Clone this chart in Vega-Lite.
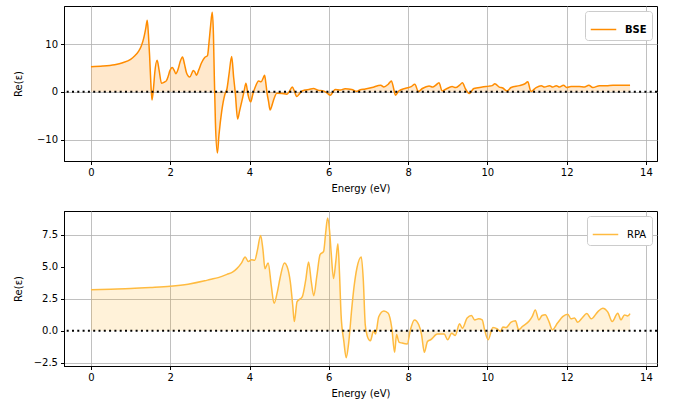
{
  "$schema": "https://vega.github.io/schema/vega-lite/v6.json",
  "padding": {"left": 12, "top": 5, "right": 5, "bottom": 5},
  "background": "white",
  "bounds": "flush",
  "spacing": 50,
  "config": {
    "font": "DejaVu Sans",
    "view": {"stroke": "black", "strokeWidth": 1},
    "axis": {
      "gridColor": "#b0b0b0", "gridWidth": 0.8, "domainColor": "black", "domainWidth": 1,
      "tickColor": "black", "tickSize": 3.5, "labelFontSize": 10, "labelColor": "black",
      "labelPadding": 3, "titleFontSize": 10, "titleFontWeight": "normal", "titleColor": "black",
      "titlePadding": 4, "labelFlush": false, "labelOverlap": false, "labelSeparation": 0, "labelBound": false
    },
    "legend": {
      "orient": "top-right", "offset": 5, "fillColor": "white", "strokeColor": "#cccccc",
      "cornerRadius": 3, "padding": 5, "labelFontSize": 10, "labelColor": "black",
      "symbolType": "stroke", "symbolSize": 650, "symbolStrokeWidth": 1.5, "labelOffset": 8
    }
  },
  "resolve": {"scale": {"x": "independent", "y": "independent", "color": "independent"}, "legend": {"color": "independent"}},
  "datasets": {
    "bse": [
      {"E":0,"v":5.27},{"E":0.3,"v":5.4},{"E":0.6,"v":5.7},{"E":0.8,"v":6.1},{"E":1.0,"v":6.8},{"E":1.1,"v":7.5},{"E":1.2,"v":8.5},{"E":1.27,"v":9.6},{"E":1.33,"v":11.2},{"E":1.38,"v":13.2},{"E":1.42,"v":15.0},{"E":1.45,"v":12.0},{"E":1.48,"v":7.5},{"E":1.51,"v":2.0},{"E":1.54,"v":-1.7},{"E":1.58,"v":1.0},{"E":1.61,"v":4.0},{"E":1.67,"v":6.6},{"E":1.72,"v":4.5},{"E":1.78,"v":1.8},{"E":1.84,"v":2.0},{"E":1.90,"v":2.3},{"E":1.95,"v":3.3},{"E":1.99,"v":4.4},{"E":2.05,"v":5.1},{"E":2.10,"v":4.5},{"E":2.14,"v":3.8},{"E":2.2,"v":4.8},{"E":2.25,"v":6.3},{"E":2.31,"v":7.3},{"E":2.36,"v":5.8},{"E":2.41,"v":4.0},{"E":2.49,"v":3.1},{"E":2.55,"v":4.0},{"E":2.58,"v":4.5},{"E":2.62,"v":4.2},{"E":2.66,"v":3.5},{"E":2.72,"v":4.6},{"E":2.79,"v":6.1},{"E":2.87,"v":7.2},{"E":2.94,"v":7.6},{"E":2.98,"v":10.5},{"E":3.02,"v":14.0},{"E":3.06,"v":16.7},{"E":3.09,"v":12.0},{"E":3.11,"v":4.0},{"E":3.14,"v":-6.4},{"E":3.19,"v":-12.8},{"E":3.23,"v":-9.0},{"E":3.30,"v":-4.0},{"E":3.38,"v":-0.5},{"E":3.43,"v":0.6},{"E":3.48,"v":3.5},{"E":3.55,"v":7.4},{"E":3.60,"v":3.0},{"E":3.64,"v":-0.1},{"E":3.70,"v":-5.7},{"E":3.75,"v":-4.0},{"E":3.80,"v":-2.2},{"E":3.86,"v":0.0},{"E":3.91,"v":1.8},{"E":3.96,"v":-0.5},{"E":4.03,"v":-2.1},{"E":4.08,"v":-0.6},{"E":4.14,"v":0.9},{"E":4.23,"v":2.3},{"E":4.29,"v":2.1},{"E":4.35,"v":3.0},{"E":4.38,"v":3.5},{"E":4.41,"v":2.0},{"E":4.44,"v":-0.1},{"E":4.48,"v":-2.0},{"E":4.52,"v":-3.8},{"E":4.56,"v":-3.0},{"E":4.60,"v":-1.9},{"E":4.69,"v":-0.3},{"E":4.82,"v":-0.35},{"E":4.94,"v":-0.5},{"E":5.0,"v":0.0},{"E":5.08,"v":1.0},{"E":5.13,"v":0.2},{"E":5.19,"v":-1.0},{"E":5.25,"v":-0.5},{"E":5.30,"v":0.0},{"E":5.40,"v":0.4},{"E":5.50,"v":0.5},{"E":5.61,"v":0.7},{"E":5.73,"v":0.35},{"E":5.86,"v":0.2},{"E":5.95,"v":-0.2},{"E":6.04,"v":-0.7},{"E":6.10,"v":-0.1},{"E":6.16,"v":0.5},{"E":6.29,"v":0.4},{"E":6.41,"v":0.65},{"E":6.58,"v":0.5},{"E":6.70,"v":0.1},{"E":6.78,"v":0.4},{"E":6.92,"v":0.6},{"E":7.09,"v":0.9},{"E":7.31,"v":1.4},{"E":7.39,"v":1.0},{"E":7.50,"v":1.6},{"E":7.58,"v":2.3},{"E":7.64,"v":0.55},{"E":7.68,"v":-0.7},{"E":7.77,"v":0.2},{"E":7.94,"v":0.76},{"E":8.08,"v":1.1},{"E":8.17,"v":1.6},{"E":8.26,"v":0.07},{"E":8.36,"v":0.7},{"E":8.53,"v":1.25},{"E":8.62,"v":1.0},{"E":8.70,"v":1.4},{"E":8.78,"v":1.9},{"E":8.86,"v":0.2},{"E":8.95,"v":0.55},{"E":9.11,"v":1.1},{"E":9.20,"v":0.9},{"E":9.30,"v":1.4},{"E":9.37,"v":1.9},{"E":9.45,"v":0.6},{"E":9.54,"v":-0.35},{"E":9.66,"v":0.7},{"E":9.87,"v":1.0},{"E":10.04,"v":1.2},{"E":10.12,"v":1.3},{"E":10.19,"v":1.7},{"E":10.30,"v":1.0},{"E":10.39,"v":0.8},{"E":10.49,"v":0.2},{"E":10.60,"v":0.9},{"E":10.81,"v":1.3},{"E":10.95,"v":1.7},{"E":11.02,"v":2.1},{"E":11.10,"v":0.07},{"E":11.23,"v":0.9},{"E":11.36,"v":1.3},{"E":11.44,"v":1.0},{"E":11.57,"v":1.3},{"E":11.65,"v":1.0},{"E":11.74,"v":1.3},{"E":11.82,"v":1.0},{"E":11.92,"v":1.4},{"E":12.0,"v":0.9},{"E":12.11,"v":1.1},{"E":12.32,"v":1.1},{"E":12.45,"v":1.0},{"E":12.56,"v":1.4},{"E":12.66,"v":0.9},{"E":12.83,"v":1.3},{"E":13.0,"v":1.3},{"E":13.17,"v":1.4},{"E":13.34,"v":1.4},{"E":13.51,"v":1.4},{"E":13.6,"v":1.4}
    ],
    "rpa": [
      {"E":0,"v":3.2},{"E":0.5,"v":3.25},{"E":1.0,"v":3.3},{"E":1.5,"v":3.38},{"E":2.0,"v":3.48},{"E":2.45,"v":3.64},{"E":2.87,"v":3.9},{"E":3.0,"v":4.0},{"E":3.21,"v":4.15},{"E":3.43,"v":4.4},{"E":3.58,"v":4.6},{"E":3.68,"v":4.85},{"E":3.80,"v":5.3},{"E":3.89,"v":5.76},{"E":3.97,"v":5.4},{"E":4.05,"v":5.55},{"E":4.13,"v":5.5},{"E":4.20,"v":6.3},{"E":4.28,"v":7.44},{"E":4.34,"v":6.3},{"E":4.39,"v":4.85},{"E":4.47,"v":5.3},{"E":4.55,"v":3.5},{"E":4.62,"v":2.14},{"E":4.70,"v":3.0},{"E":4.77,"v":4.1},{"E":4.88,"v":5.3},{"E":4.95,"v":5.0},{"E":5.03,"v":3.8},{"E":5.09,"v":2.0},{"E":5.13,"v":0.72},{"E":5.20,"v":2.27},{"E":5.33,"v":2.65},{"E":5.42,"v":4.0},{"E":5.49,"v":5.37},{"E":5.56,"v":3.8},{"E":5.62,"v":2.74},{"E":5.70,"v":4.3},{"E":5.78,"v":5.94},{"E":5.87,"v":6.2},{"E":5.92,"v":7.6},{"E":5.97,"v":8.8},{"E":6.02,"v":7.8},{"E":6.06,"v":6.1},{"E":6.12,"v":4.08},{"E":6.18,"v":5.5},{"E":6.23,"v":6.8},{"E":6.27,"v":4.5},{"E":6.31,"v":1.24},{"E":6.38,"v":-0.83},{"E":6.44,"v":-2.1},{"E":6.50,"v":-1.0},{"E":6.58,"v":1.75},{"E":6.64,"v":3.5},{"E":6.71,"v":4.9},{"E":6.82,"v":5.76},{"E":6.87,"v":4.0},{"E":6.92,"v":0.46},{"E":6.97,"v":-0.4},{"E":7.05,"v":-0.78},{"E":7.13,"v":0},{"E":7.18,"v":-0.26},{"E":7.26,"v":1.1},{"E":7.39,"v":1.55},{"E":7.50,"v":1.37},{"E":7.59,"v":0.2},{"E":7.66,"v":-1.68},{"E":7.71,"v":-0.3},{"E":7.77,"v":-0.88},{"E":7.85,"v":-0.96},{"E":7.98,"v":-1.03},{"E":8.06,"v":0.08},{"E":8.16,"v":0.85},{"E":8.27,"v":0.47},{"E":8.34,"v":-0.3},{"E":8.41,"v":-1.68},{"E":8.49,"v":-0.83},{"E":8.57,"v":-0.7},{"E":8.74,"v":-0.26},{"E":8.91,"v":-0.26},{"E":9.0,"v":-0.7},{"E":9.10,"v":-0.2},{"E":9.19,"v":-0.36},{"E":9.30,"v":0.54},{"E":9.37,"v":0.2},{"E":9.49,"v":1.0},{"E":9.60,"v":1.19},{"E":9.68,"v":0.85},{"E":9.78,"v":0.93},{"E":9.87,"v":0.85},{"E":9.93,"v":0.08},{"E":10.02,"v":-0.7},{"E":10.14,"v":0.26},{"E":10.25,"v":0.15},{"E":10.33,"v":-0.05},{"E":10.39,"v":0.3},{"E":10.47,"v":0.25},{"E":10.60,"v":0.67},{"E":10.71,"v":0.78},{"E":10.79,"v":0.08},{"E":10.89,"v":0.35},{"E":11.06,"v":0.78},{"E":11.13,"v":1.1},{"E":11.21,"v":1.63},{"E":11.30,"v":0.85},{"E":11.38,"v":1.19},{"E":11.46,"v":1.25},{"E":11.56,"v":0.67},{"E":11.64,"v":0.08},{"E":11.77,"v":0.6},{"E":11.90,"v":1.1},{"E":12.03,"v":1.29},{"E":12.11,"v":0.93},{"E":12.20,"v":1.0},{"E":12.28,"v":0.67},{"E":12.39,"v":1.0},{"E":12.51,"v":1.34},{"E":12.62,"v":0.93},{"E":12.79,"v":1.5},{"E":12.91,"v":1.76},{"E":13.04,"v":1.45},{"E":13.15,"v":0.72},{"E":13.29,"v":1.37},{"E":13.37,"v":0.85},{"E":13.46,"v":1.24},{"E":13.54,"v":1.15},{"E":13.6,"v":1.34}
    ]
  },
  "vconcat": [
    {
      "width": 593, "height": 155,
      "layer": [
        {"data": {"name": "bse"},
         "mark": {"type": "area", "color": "#ff8c00", "opacity": 0.2, "interpolate": "monotone"},
         "encoding": {
           "x": {"field": "E", "type": "quantitative", "title": "Energy (eV)",
              "scale": {"domain": [-0.68, 14.28], "nice": false, "zero": false},
              "axis": {"values": [0,2,4,6,8,10,12,14], "labelOverlap": false, "titleX": 296.5, "titleY": 22, "titleBaseline": "top"}},
           "y": {"field": "v", "type": "quantitative", "title": "Re(ε)",
              "scale": {"domain": [-14.5, 18.0], "nice": false, "zero": false},
              "axis": {"values": [-10, 0, 10], "labelOverlap": false, "titleX": -46, "titleY": 77.5, "titleAngle": -90, "titleAlign": "center", "titleBaseline": "middle"}},
           "y2": {"datum": 0}}},
        {"data": {"name": "bse"},
         "mark": {"type": "line", "strokeWidth": 1.5, "interpolate": "monotone"},
         "encoding": {
           "x": {"field": "E", "type": "quantitative"},
           "y": {"field": "v", "type": "quantitative"},
           "color": {"datum": "BSE", "type": "nominal", "scale": {"domain": ["BSE"], "range": ["#ff8c00"]},
                     "legend": {"title": null, "labelFontWeight": "bold"}}}},
        {"data": {"values": [{}]},
         "mark": {"type": "rule", "color": "black", "strokeWidth": 2, "strokeDash": [2, 3.3]},
         "encoding": {"y": {"datum": 0}}}
      ]
    },
    {
      "width": 593, "height": 155,
      "resolve": {"scale": {"y": "shared"}, "axis": {"y": "independent"}},
      "layer": [
        {"data": {"name": "rpa"},
         "mark": {"type": "area", "color": "#ffa500", "opacity": 0.15, "interpolate": "monotone"},
         "encoding": {
           "x": {"field": "E", "type": "quantitative", "title": "Energy (eV)",
              "scale": {"domain": [-0.68, 14.28], "nice": false, "zero": false},
              "axis": {"values": [0,2,4,6,8,10,12,14], "labelOverlap": false, "titleX": 296.5, "titleY": 22, "titleBaseline": "top"}},
           "y": {"field": "v", "type": "quantitative", "title": "Re(ε)",
              "scale": {"domain": [-2.75, 9.35], "nice": false, "zero": false},
              "axis": {"orient": "left", "values": [-2.5, 2.5, 7.5], "format": ".1f", "labelOverlap": false, "titleX": -46, "titleY": 77.5, "titleAngle": -90, "titleAlign": "center", "titleBaseline": "middle"}},
           "y2": {"datum": 0}}},
        {"data": {"name": "rpa"},
         "mark": {"type": "line", "strokeWidth": 1.5, "interpolate": "monotone"},
         "encoding": {
           "x": {"field": "E", "type": "quantitative"},
           "y": {"field": "v", "type": "quantitative", "axis": null},
           "color": {"datum": "RPA", "type": "nominal", "scale": {"domain": ["RPA"], "range": ["#ffbb40"]},
                     "legend": {"title": null}}}},
        {"data": {"values": [{}]},
         "mark": {"type": "rule", "color": "black", "strokeWidth": 2, "strokeDash": [2, 3.3]},
         "encoding": {"y": {"datum": 0, "type": "quantitative", "title": null,
              "axis": {"orient": "left", "values": [0, 5], "format": ".1f", "labelOverlap": false}}}}
      ]
    }
  ]
}
